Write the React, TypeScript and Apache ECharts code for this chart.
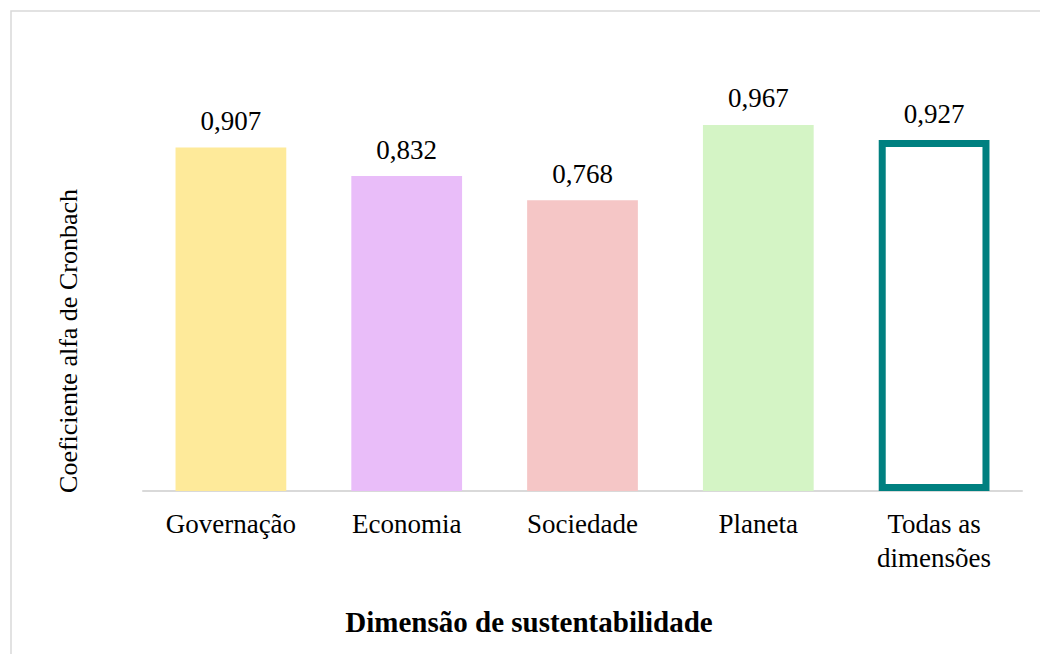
import React, { useEffect, useRef } from "react";
import * as echarts from "echarts";

const categories = ["Governação", "Economia", "Sociedade", "Planeta", "Todas as\ndimensões"];
const values = [0.907, 0.832, 0.768, 0.967, 0.927];
const barColors = ["#FEEA9A", "#E9BDF9", "#F5C6C6", "#D4F4C5", "transparent"];
const yTitle = "Coeficiente alfa de Cronbach";
const xTitle = "Dimensão de sustentabilidade";

const FONT = "Liberation Serif";

export default function App() {
  const ref = useRef<HTMLDivElement>(null);
  useEffect(() => {
    if (!ref.current) return;
    const chart = echarts.init(ref.current, undefined, { renderer: "svg" });
    chart.setOption({
      animation: false,
      backgroundColor: "#ffffff",
      textStyle: { fontFamily: FONT },
      grid: { left: 143, right: 18, top: 112.4, bottom: 163 },
      xAxis: {
        type: "category",
        data: categories,
        axisLine: { lineStyle: { color: "#D9D9D9", width: 2 } },
        axisTick: { show: false },
        axisLabel: {
          color: "#000",
          fontFamily: FONT,
          fontSize: 27,
          margin: 16,
          lineHeight: 34,
        },
      },
      yAxis: {
        type: "value",
        min: 0,
        max: 1,
        show: false,
      },
      series: [
        {
          type: "bar",
          barCategoryGap: "37%",
          data: values.map((v, i) =>
            i === 4
              ? {
                  value: v,
                  itemStyle: { color: "rgba(255,255,255,0)", borderColor: "#008080", borderWidth: 7 },
                }
              : { value: v, itemStyle: { color: barColors[i] } }
          ),
          label: {
            show: true,
            position: "top",
            distance: 13,
            color: "#000",
            fontFamily: FONT,
            fontSize: 27,
            formatter: (p: any) => p.value.toFixed(3).replace(".", ","),
          },
        },
      ],
      graphic: [
        {
          type: "rect",
          shape: { x: 11, y: 11, width: 1200, height: 1000 },
          style: { fill: "none", stroke: "#D9D9D9", lineWidth: 1.5 },
          silent: true,
        },
        {
          type: "text",
          x: 68,
          y: 341,
          rotation: Math.PI / 2,
          style: {
            text: yTitle,
            fontFamily: FONT,
            fontSize: 26,
            fill: "#000",
            align: "center",
            verticalAlign: "middle",
          },
        },
        {
          type: "text",
          x: 529,
          y: 622,
          style: {
            text: xTitle,
            fontFamily: FONT,
            fontSize: 29,
            fontWeight: "bold",
            fill: "#000",
            align: "center",
            verticalAlign: "middle",
          },
        },
      ],
    });
    return () => chart.dispose();
  }, []);
  return (
    <div
      ref={ref}
      style={{ position: "fixed", left: 0, top: 0, width: 1040, height: 654 }}
    />
  );
}
